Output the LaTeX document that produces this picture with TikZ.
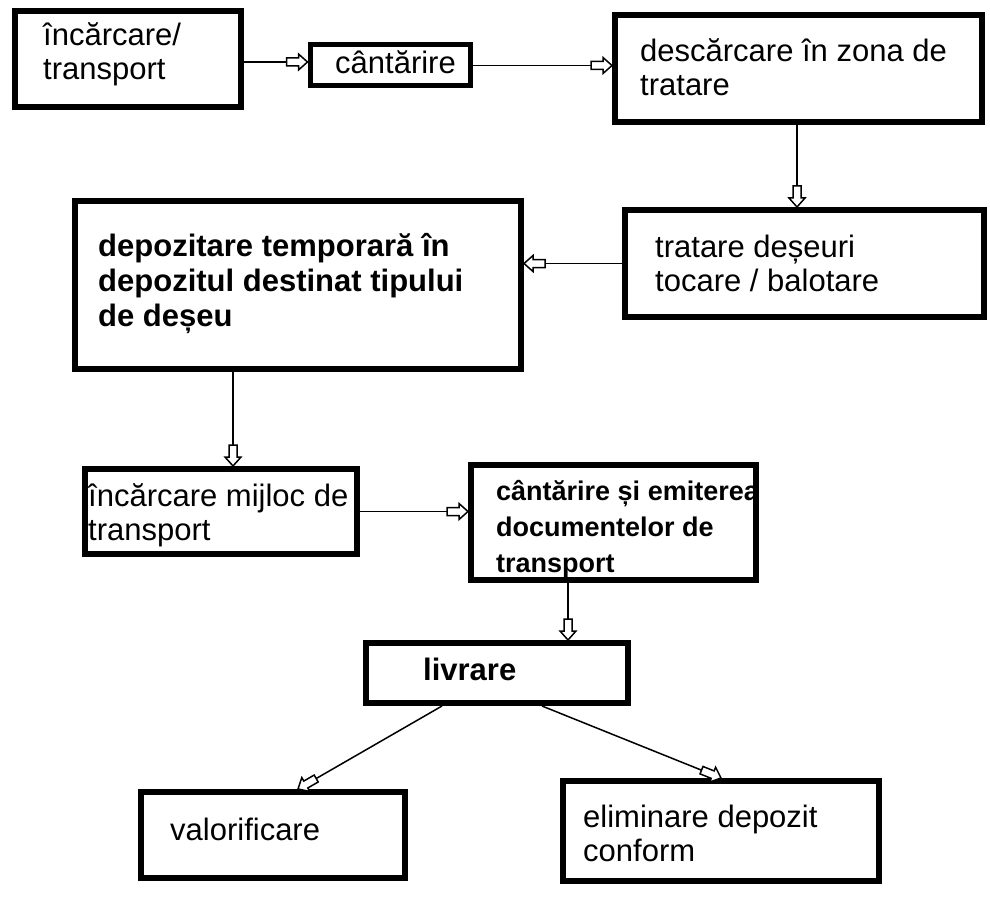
\documentclass[tikz,border=0pt]{standalone}
\usepackage{fontspec}
\setmainfont{Liberation Sans}
\usetikzlibrary{arrows.meta}
\pgfdeclarearrow{
  name=BlockOpen,
  setup code={
    \pgfarrowssettipend{0pt}
    \pgfarrowssetlineend{-8pt}
    \pgfarrowssetbackend{-21pt}
    \pgfarrowssetvisualbackend{-21pt}
  },
  drawing code={
    \pgfsetdash{}{0pt}
    \pgfsetlinewidth{1.5pt}
    \pgfsetfillcolor{white}
    \pgfpathmoveto{\pgfqpoint{0pt}{0pt}}
    \pgfpathlineto{\pgfqpoint{-9pt}{8pt}}
    \pgfpathlineto{\pgfqpoint{-9pt}{4pt}}
    \pgfpathlineto{\pgfqpoint{-21pt}{4pt}}
    \pgfpathlineto{\pgfqpoint{-21pt}{-4pt}}
    \pgfpathlineto{\pgfqpoint{-9pt}{-4pt}}
    \pgfpathlineto{\pgfqpoint{-9pt}{-8pt}}
    \pgfpathclose
    \pgfusepathqfillstroke
  },
  defaults={}
}
\tikzset{
  box/.style={draw, line width=6pt, rectangle, inner sep=0pt},
  txt/.style={inner sep=0pt, align=left, font=\fontsize{31}{34}\selectfont},
  btxt/.style={inner sep=0pt, align=left, font=\fontsize{31}{35}\selectfont\bfseries},
  conn/.style={line width=1.5pt, -BlockOpen}
}
\newcommand\mybox[6][]{\node[box,#1, minimum width={#4-#2-6}, minimum height={#5-#3-6}] (#6) at ({(#2+#4)/2},{(#3+#5)/2}) {};}
\begin{document}
\begin{tikzpicture}[x=1pt,y=-1pt]
\fill[white] (0,0) rectangle (990,912);
\useasboundingbox (0,0) rectangle (990,912);
% boxes
\mybox{12}{8}{244}{110}{a}
\mybox[line width=5pt]{307}{42}{473}{89}{b}
\mybox{612}{12}{985}{125}{c}
\mybox{622}{207}{987}{320}{d}
\mybox{72}{198}{524}{372}{e}
\mybox{82}{466}{360}{557}{f}
\mybox{468}{462}{759}{583}{g}
\mybox{363}{640}{631}{706}{h}
\mybox{138}{789}{408}{881}{i}
\mybox{560}{778}{882}{884}{j}
% texts (base anchor = baseline of the last line)
\node[txt, anchor=base west] (ta) at (43,80) {încărcare/\\transport};
\node[txt, anchor=base west] (tb) at (335,74) {cântărire};
\node[txt, anchor=base west] (tc) at (640,96) {descărcare în zona de\\tratare};
\node[txt, anchor=base west] (td) at (655,291) {tratare deșeuri\\tocare / balotare};
\node[btxt, anchor=base west] (te) at (98,326) {depozitare temporară în\\depozitul destinat tipului\\de deșeu};
\node[txt, anchor=base west] (tf) at (88,540) {încărcare mijloc de\\transport};
\node[btxt, anchor=base west, font=\fontsize{27}{36}\selectfont\bfseries] (tg) at (496,572) {cântărire și emiterea\\documentelor de\\transport};
\node[btxt, anchor=base west] (th) at (423,680) {livrare};
\node[txt, anchor=base west] (ti) at (170,840) {valorificare};
\node[txt, anchor=base west] (tj) at (583,861) {eliminare depozit\\conform};
% connectors
\draw[conn] (a.east |- 0,62) -- (b.west |- 0,62);
\draw[conn] (b.east) -- (c.west |- b.east);
\draw[conn] (797,0 |- c.south) -- (797,0 |- d.north);
\draw[conn] (d.west) -- (e.east |- d.west);
\draw[conn] (233,0 |- e.south) -- (233,0 |- f.north);
\draw[conn] (f.east) -- (g.west |- f.east);
\draw[conn] (568,0 |- g.south) -- (568,0 |- h.north);
\draw[conn] ([xshift=79pt]h.south west) -- ([xshift=25pt]i.north);
\draw[conn] ([xshift=-89pt]h.south east) -- (j.north);
\end{tikzpicture}
\end{document}
